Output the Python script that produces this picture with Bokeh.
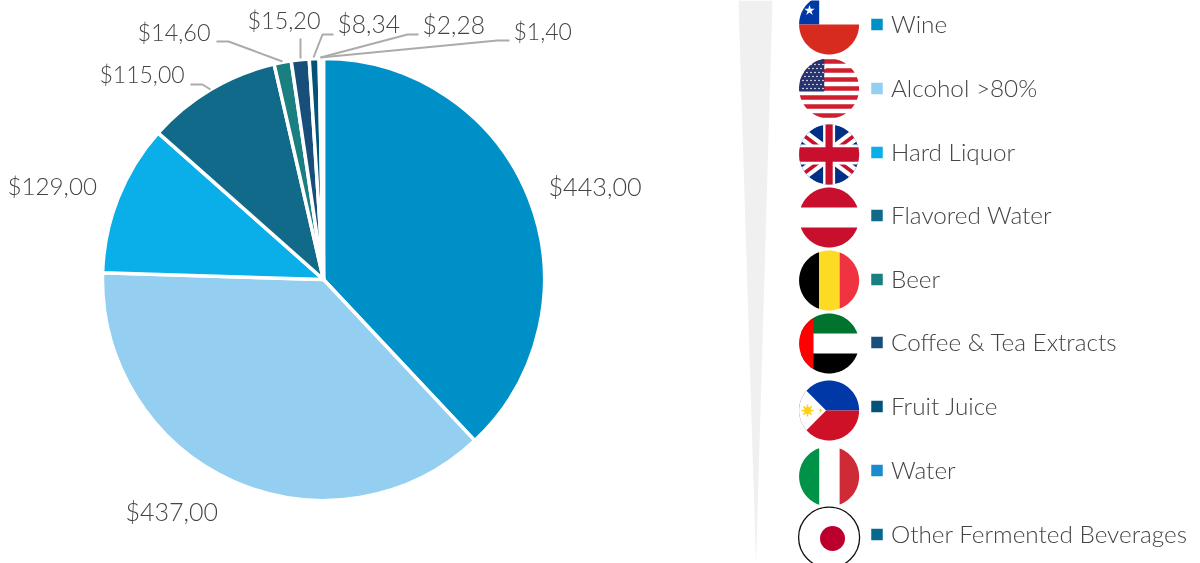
import math
from bokeh.plotting import figure
from bokeh.embed import file_html
from bokeh.resources import INLINE
from bokeh.models import ColumnDataSource, Range1d
from bokeh.core.properties import value

categories = ["Wine", "Alcohol >80%", "Hard Liquor", "Flavored Water", "Beer",
              "Coffee & Tea Extracts", "Fruit Juice", "Water", "Other Fermented Beverages"]
values = [443.00, 437.00, 129.00, 115.00, 14.60, 15.20, 8.34, 2.28, 1.40]
labels = ["$443,00", "$437,00", "$129,00", "$115,00", "$14,60", "$15,20", "$8,34", "$2,28", "$1,40"]
colors = ["#0090C8", "#94CEF1", "#0AAEE9", "#126A8A", "#197F80", "#174E7A", "#025377", "#1B8ACF", "#06688D"]

W, H = 1200, 563
FONT = "Lato Light"
TXT = "#444444"

p = figure(width=W, height=H, x_range=Range1d(0, W), y_range=Range1d(0, H),
           output_backend="svg", toolbar_location=None, min_border=0,
           outline_line_color=None, background_fill_color="white", border_fill_color="white")
p.axis.visible = False
p.grid.visible = False
p.styles = {"position": "fixed", "left": "0", "top": "0"}

def Y(y):
    return H - y

# background wedge
p.patch([738, 772, 755.5], [Y(0), Y(0), Y(563)], fill_color="#f0f0f0", line_color=None)

# pie
cx, cy, R = 323, 279, 221
total = sum(values)
starts, ends, c = [], [], 0.0
for v in values:
    starts.append(math.pi / 2 - c / total * 2 * math.pi)
    c += v
    ends.append(math.pi / 2 - c / total * 2 * math.pi)
src = ColumnDataSource(dict(start=starts, end=ends, color=colors, cat=categories, val=values))
p.wedge(x=cx, y=Y(cy), radius=R, start_angle="start", end_angle="end", direction="clock",
        fill_color="color", line_color="white", line_width=3.5, source=src)

# data labels
label_x = [548, 125, 7, 99, 137, 247, 337, 422, 513]
label_y = [185, 510, 185, 73, 31, 19, 23, 24, 30]
label_size = ["25.2px", "25px", "24.2px", "23px", "23.4px", "23.4px", "24.6px", "24.6px", "23px"]
lsrc = ColumnDataSource(dict(x=label_x, y=[Y(y) for y in label_y], t=labels, s=label_size))
p.text("x", "y", text="t", text_font=value(FONT), text_font_size="s", source=lsrc,
       text_color=TXT, text_align="left", text_baseline="middle")

# connectors
conn = [
    [(190, 84), (202, 84), (210, 89)],
    [(216, 41), (228, 41), (282, 61)],
    [(300, 38), (300, 58)],
    [(333, 34), (322, 34), (313, 57)],
    [(418, 34), (407, 34), (320, 57)],
    [(509, 40), (497, 40), (320, 57)],
]
p.multi_line([[a for a, _ in l] for l in conn], [[Y(b) for _, b in l] for l in conn],
             line_color="#ababab", line_width=2)

# legend
leg_y = [24, 88, 152, 215, 279, 342, 406, 470, 534]
p.rect([876.5] * 9, [Y(y) for y in leg_y], width=11.5, height=11.5, fill_color=colors, line_color=None)
p.text([890.5] * 9, [Y(y - 1) for y in leg_y], text=categories, text_font=value(FONT), text_font_size="24.3px",
       text_color=TXT, text_align="left", text_baseline="middle")

# flags: convex pieces clipped to a circle
fx, fr = 828.6, 30
circle = [(math.cos(i / 180 * 2 * math.pi), math.sin(i / 180 * 2 * math.pi)) for i in range(180)]

def clip(poly):
    out = circle
    n = len(poly)
    area = sum(poly[i][0] * poly[(i + 1) % n][1] - poly[(i + 1) % n][0] * poly[i][1] for i in range(n))
    s = 1 if area > 0 else -1
    for i in range(n):
        a, b = poly[i], poly[(i + 1) % n]
        def side(q):
            return s * ((b[0] - a[0]) * (q[1] - a[1]) - (b[1] - a[1]) * (q[0] - a[0]))
        res = []
        for j in range(len(out)):
            q, r = out[j], out[(j + 1) % len(out)]
            sq, sr = side(q), side(r)
            if sq >= 0:
                res.append(q)
            if (sq >= 0) != (sr >= 0):
                t = sq / (sq - sr)
                res.append((q[0] + t * (r[0] - q[0]), q[1] + t * (r[1] - q[1])))
        out = res
        if not out:
            break
    return out

xs, ys, fills = [], [], []
def piece(fy, poly, col):
    pts = clip(poly)
    if pts:
        xs.append([fx + fr * u for u, _ in pts])
        ys.append([Y(fy + fr * w) for _, w in pts])
        fills.append(col)

def box(fy, u0, u1, v0, v1, col):
    piece(fy, [(u0, v0), (u1, v0), (u1, v1), (u0, v1)], col)

def band(fy, a, b, w, col):
    dx, dy = b[0] - a[0], b[1] - a[1]
    L = math.hypot(dx, dy)
    nx, ny = -dy / L * w, dx / L * w
    piece(fy, [(a[0] + nx, a[1] + ny), (b[0] + nx, b[1] + ny), (b[0] - nx, b[1] - ny), (a[0] - nx, a[1] - ny)], col)

# Chile
fy = 24
box(fy, -1.1, 1.1, -1.1, 0, "#ffffff")
box(fy, -1.1, -0.33, -1.1, 0, "#0039A6")
box(fy, -1.1, 1.1, 0, 1.1, "#D72B1F")
# USA
fy = 88
box(fy, -1.1, 1.1, -1.1, 1.1, "#ffffff")
for py in [61, 70, 79, 88, 97, 106, 115]:
    v = (py - fy) / fr
    box(fy, -1.1, 1.1, v - 0.075, v + 0.075, "#CF1F2E")
box(fy, -1.1, -0.16, -1.1, 0.1, "#27336F")
# UK
fy = 154
box(fy, -1.1, 1.1, -1.1, 1.1, "#012F85")
band(fy, (-1, -0.75), (1, 0.75), 0.2, "#ffffff")
band(fy, (-1, 0.75), (1, -0.75), 0.2, "#ffffff")
band(fy, (-1, -0.75), (0, 0), 0.06, "#C8102E")
band(fy, (1, 0.75), (0, 0), 0.06, "#C8102E")
band(fy, (-1, 0.75), (0, 0), 0.06, "#C8102E")
band(fy, (1, -0.75), (0, 0), 0.06, "#C8102E")
box(fy, -0.2, 0.2, -1.1, 1.1, "#ffffff")
box(fy, -1.1, 1.1, -0.33, 0.33, "#ffffff")
box(fy, -0.12, 0.12, -1.1, 1.1, "#C8102E")
box(fy, -1.1, 1.1, -0.24, 0.24, "#C8102E")
# Austria
fy = 217
box(fy, -1.1, 1.1, -1.1, -0.33, "#C8102E")
box(fy, -1.1, 1.1, 0.33, 1.1, "#C8102E")
# Belgium
fy = 280
box(fy, -1.1, -0.33, -1.1, 1.1, "#000000")
box(fy, -0.33, 0.35, -1.1, 1.1, "#FDDA24")
box(fy, 0.35, 1.1, -1.1, 1.1, "#EF3340")
# UAE
fy = 343
box(fy, -1.1, 1.1, -1.1, -0.33, "#00732F")
box(fy, -1.1, 1.1, 0.33, 1.1, "#000000")
box(fy, -1.1, -0.52, -1.1, 1.1, "#FF0000")
# Philippines
fy = 410
box(fy, -1.1, 1.1, -1.1, 0, "#0038A8")
box(fy, -1.1, 1.1, 0, 1.1, "#CE1126")
piece(fy, [(-0.1, 0), (-1.2, 1.1), (-1.2, -1.1)], "#ffffff")
# Italy
fy = 476
box(fy, -1.1, -0.33, -1.1, 1.1, "#009246")
box(fy, 0.35, 1.1, -1.1, 1.1, "#CE2B37")

p.patches(xs, ys, fill_color=fills, line_color=None)

# small flag details
p.scatter([809], [Y(10)], marker="star", size=11, fill_color="white", line_color=None)
star_x, star_y = [], []
for r in range(7):
    for k in range(6):
        star_x.append(802.5 + k * 4 + (2 if r % 2 else 0))
        star_y.append(Y(64 + r * 4))
p.scatter(star_x, star_y, marker="circle", size=1.6, fill_color="white", line_color=None)
p.scatter([807], [Y(410)], marker="circle", size=7, fill_color="#FCD116", line_color=None)
p.scatter([807], [Y(410)], marker="asterisk", size=12, line_color="#FCD116", line_width=1.6)
p.scatter([820], [Y(410)], marker="diamond", size=4, fill_color="#FCD116", line_color=None)
# Japan
p.circle([828.6], [Y(537)], radius=30.5, fill_color="white", line_color="#111111", line_width=1.3)
p.circle([832], [Y(538)], radius=12.5, fill_color="#BC002D", line_color=None)

open("out.html", "w").write(file_html(p, INLINE))
